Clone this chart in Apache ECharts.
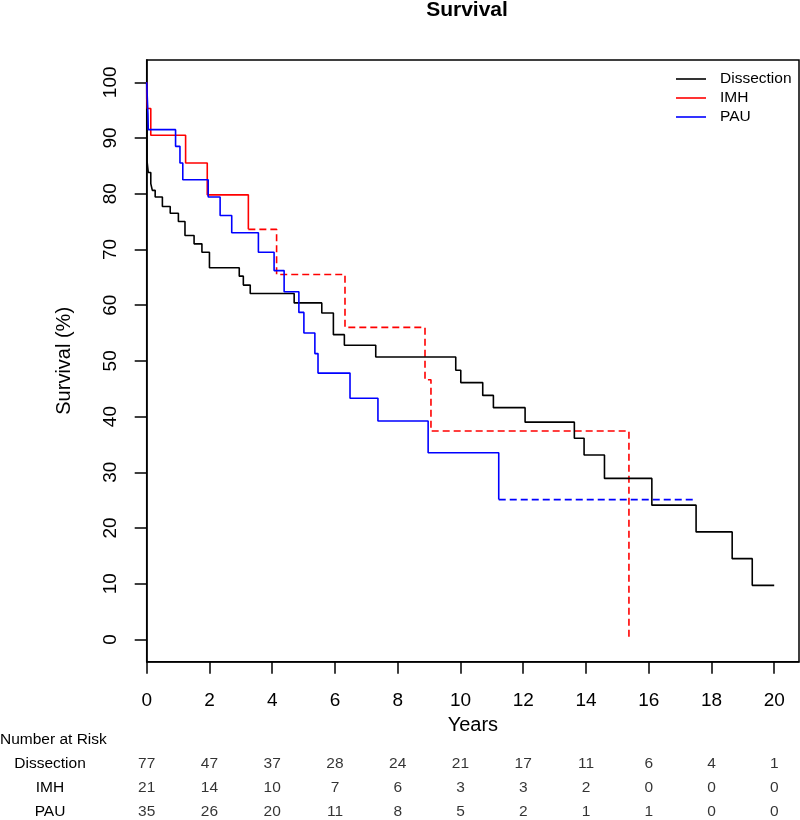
<!DOCTYPE html>
<html><head><meta charset="utf-8">
<script src="https://cdn.jsdelivr.net/npm/echarts@6/dist/echarts.min.js"></script>
<style>html,body{margin:0;padding:0;background:#fff}#c{width:800px;height:820px}</style>
</head><body><div id="c"></div>
<script>
// ---- Kaplan-Meier step data (time in years, survival %) ----
const dissectionTimes = [0, 0.01, 0.05, 0.13, 0.18, 0.27, 0.50, 0.75, 1.01, 1.22, 1.51, 1.76, 2.0, 2.95, 3.08, 3.3, 4.70, 5.58, 5.95, 6.30, 7.30, 9.85, 10.01, 10.71, 11.05, 12.06, 13.63, 13.94, 14.59, 16.10, 17.51, 18.66, 19.30, 20.0];
const dissectionSurv  = [100, 85.9, 83.8, 81.8, 80.6, 79.4, 77.7, 76.5, 75.0, 72.5, 71.0, 69.5, 66.7, 65.2, 63.6, 62.1, 60.4, 58.6, 54.7, 52.8, 50.7, 48.3, 46.1, 43.8, 41.6, 39.0, 36.1, 33.1, 28.9, 24.1, 19.3, 14.5, 9.7, 9.7];

const imhTimes       = [0, 0.02, 0.13, 1.24, 1.93, 3.24];
const imhSurv        = [100, 95.3, 90.5, 85.5, 79.8, 73.6];
const imhDashTimes   = [3.24, 4.14, 6.32, 8.87, 9.06, 15.37];
const imhDashSurv    = [73.6, 65.5, 56.0, 46.6, 37.4, 0];

const pauTimes       = [0, 0.02, 0.04, 0.05, 0.92, 1.06, 1.15, 1.96, 2.34, 2.71, 3.56, 4.06, 4.38, 4.85, 5.01, 5.36, 5.46, 6.48, 7.37, 8.97, 11.22];
const pauSurv        = [100, 97.1, 94.3, 91.5, 88.5, 85.5, 82.5, 79.4, 76.1, 73.0, 69.5, 66.2, 62.4, 58.7, 55.0, 51.3, 47.8, 43.3, 39.2, 33.5, 25.1];
const pauDashTimes   = [11.22, 17.48];
const pauDashSurv    = [25.1, 25.1];

// ---- Number at risk table ----
const riskTimes      = [0, 2, 4, 6, 8, 10, 12, 14, 16, 18, 20];
const riskGroups     = ['Dissection', 'IMH', 'PAU'];
const riskDissection = [77, 47, 37, 28, 24, 21, 17, 11, 6, 4, 1];
const riskIMH        = [21, 14, 10, 7, 6, 3, 3, 2, 0, 0, 0];
const riskPAU        = [35, 26, 20, 11, 8, 5, 2, 1, 1, 0, 0];

const xTicks = [0, 2, 4, 6, 8, 10, 12, 14, 16, 18, 20];
const yTicks = [0, 10, 20, 30, 40, 50, 60, 70, 80, 90, 100];

const FONT = "'Liberation Sans', Arial, Helvetica, sans-serif";
const zip = (a, b) => a.map((t, i) => [t, b[i]]);

const chart = echarts.init(document.getElementById('c'), null, {renderer: 'canvas'});

const lineSeries = (name, times, surv, color, dashed) => ({
  type: 'line', name, data: zip(times, surv), step: 'end', symbol: 'none',
  xAxisIndex: 0, yAxisIndex: 0,
  lineStyle: {color, width: 1.6, type: dashed ? [7, 4] : 'solid'},
  itemStyle: {color}, color, z: dashed ? 2 : 3
});

const riskSeries = (gi, vals) => ({
  type: 'scatter', xAxisIndex: 1, yAxisIndex: 1, symbolSize: 1, clip: false,
  itemStyle: {color: 'transparent'}, silent: true,
  data: riskTimes.map((t, i) => [t, gi, vals[i]]),
  label: {show: true, position: 'inside', formatter: p => String(p.value[2]),
          color: '#000', fontSize: 15.5, fontFamily: FONT}
});

chart.setOption({
  animation: false,
  backgroundColor: '#fff',
  textStyle: {fontFamily: FONT},
  grid: [
    {left: 146.7, right: 1, top: 60, bottom: 158.3, show: true, borderColor: '#000', borderWidth: 1.5, backgroundColor: 'transparent'},
    {left: 146.7, right: 1, top: 764, bottom: 8}
  ],
  xAxis: [
    {type: 'value', gridIndex: 0, min: 0, max: 20.79,
     name: 'Years', nameLocation: 'middle', nameGap: 50,
     nameTextStyle: {fontSize: 20, color: '#000', fontFamily: FONT},
     axisLine: {show: true, onZero: false, lineStyle: {color: '#000', width: 1.5}},
     axisTick: {show: true, length: 12, lineStyle: {color: '#000', width: 1.5}, customValues: xTicks},
     axisLabel: {fontSize: 19, color: '#000', margin: 30, fontFamily: FONT, customValues: xTicks},
     splitLine: {show: false}},
    {type: 'value', gridIndex: 1, min: 0, max: 20.79, show: false}
  ],
  yAxis: [
    {type: 'value', gridIndex: 0, min: -4, max: 104,
     name: 'Survival (%)', nameLocation: 'middle', nameGap: 72,
     nameTextStyle: {fontSize: 20, color: '#000', fontFamily: FONT},
     axisLine: {show: true, onZero: false, lineStyle: {color: '#000', width: 1.5}},
     axisTick: {show: true, length: 12, lineStyle: {color: '#000', width: 1.5}, customValues: yTicks},
     axisLabel: {fontSize: 19, color: '#000', margin: 26, rotate: 90, fontFamily: FONT, customValues: yTicks},
     splitLine: {show: false}},
    {type: 'value', gridIndex: 1, min: 0, max: 2, inverse: true,
     axisLine: {show: false}, axisTick: {show: false}, splitLine: {show: false},
     axisLabel: {show: true, align: 'center', margin: 96.7, fontSize: 15.5, color: '#000', fontFamily: FONT,
                 customValues: [0, 1, 2], formatter: v => riskGroups[Math.round(v)] || ''}}
  ],
  legend: {
    data: ['Dissection', 'IMH', 'PAU'], orient: 'vertical', left: 676, top: 71, padding: 0,
    icon: 'rect', itemWidth: 30, itemHeight: 1.6, itemGap: 3,
    textStyle: {fontSize: 15.5, color: '#000', fontFamily: FONT, padding: [0, 0, 0, 9]},
    selectedMode: false
  },
  graphic: [
    {type: 'text', x: 467, y: 10, style: {text: 'Survival', font: `bold 21px ${FONT}`, fill: '#000', align: 'center', verticalAlign: 'middle'}},
    {type: 'text', x: 0, y: 740, style: {text: 'Number at Risk', font: `15.5px ${FONT}`, fill: '#000', verticalAlign: 'middle'}}
  ],
  series: [
    lineSeries('Dissection', dissectionTimes, dissectionSurv, '#000', false),
    lineSeries('IMH', imhTimes, imhSurv, '#ff0000', false),
    lineSeries('IMH (censored tail)', imhDashTimes, imhDashSurv, '#ff0000', true),
    lineSeries('PAU', pauTimes, pauSurv, '#0000ff', false),
    lineSeries('PAU (censored tail)', pauDashTimes, pauDashSurv, '#0000ff', true),
    riskSeries(0, riskDissection),
    riskSeries(1, riskIMH),
    riskSeries(2, riskPAU)
  ]
});
</script>
</body></html>
